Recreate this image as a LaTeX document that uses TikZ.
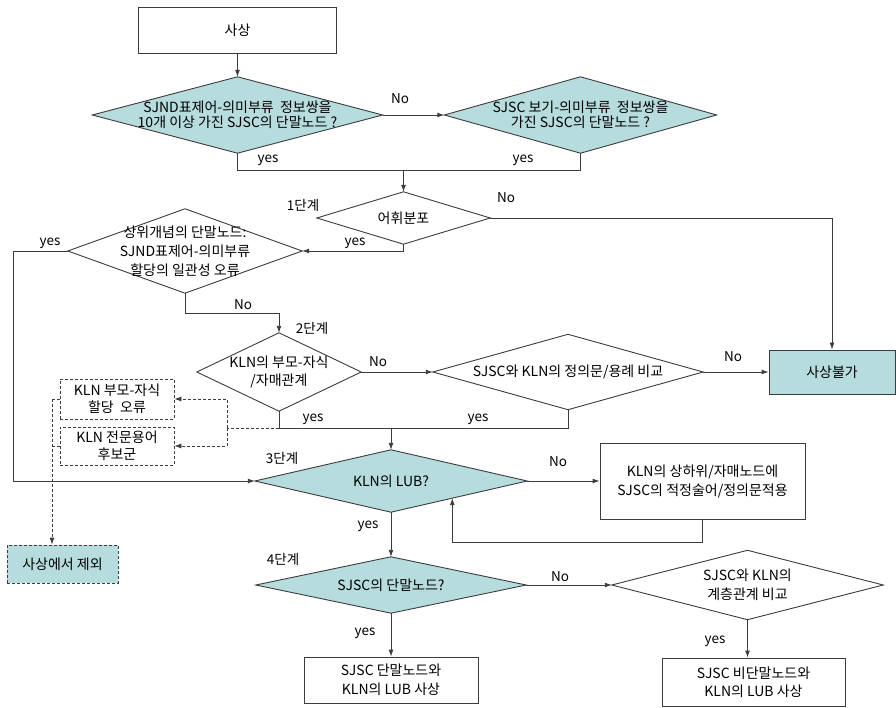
\documentclass[tikz,border=0pt]{standalone}
\usepackage{fontspec}
\setmainfont{Noto Sans CJK KR}
\usetikzlibrary{arrows.meta,calc}
\definecolor{tealfill}{RGB}{182,220,222}
\definecolor{lncol}{RGB}{60,60,60}
\pgfdeclarelayer{background}
\pgfsetlayers{background,main}
\newcommand{\dshape}[2]{\begin{pgfonlayer}{background}\filldraw[#2] (#1.north)--(#1.east)--(#1.south)--(#1.west)--cycle;\end{pgfonlayer}}
\begin{document}
\begin{tikzpicture}[x=1pt,y=-1pt,
  every node/.style={font=\fontsize{14}{16}\selectfont, text=black},
  box/.style={draw=lncol, line width=0.9pt, rectangle, inner sep=0pt, align=center},
  dbox/.style={draw=lncol, line width=0.8pt, dash pattern=on 3pt off 2pt, rectangle, inner sep=0pt, align=center},
  dia/.style={rectangle, inner sep=0pt, align=center},
  blue/.style={fill=tealfill, draw=lncol, line width=0.9pt},
  white/.style={fill=white, draw=lncol, line width=0.9pt},
  lbl/.style={inner sep=0pt, font=\fontsize{13.5}{16}\selectfont},
  ln/.style={draw=lncol, line width=0.9pt},
  arr/.style={draw=lncol, line width=0.9pt, -{Latex[length=7pt,width=5pt]}},
  dsh/.style={draw=lncol, line width=0.8pt, dash pattern=on 3pt off 2pt},
  dsharr/.style={dsh, -{Latex[length=7pt,width=5pt]}},
]
\useasboundingbox (0,0) rectangle (896,708);

% nodes
\node[box, minimum width=198pt, minimum height=46pt] (n0) at (237.5,30) {사상};

\node[dia, minimum width=290pt, minimum height=76pt, font=\fontsize{14}{15.5}\selectfont] (d1) at (237.5,115) {SJND표제어-의미부류\ \ 정보쌍을\\10개 이상 가진 SJSC의 단말노드 ?};
\dshape{d1}{blue}
\node[dia, minimum width=272pt, minimum height=76pt, font=\fontsize{14}{15.5}\selectfont] (d2) at (580.5,115) {SJSC 보기-의미부류\ \ 정보쌍을\\가진 SJSC의 단말노드 ?};
\dshape{d2}{blue}

\node[dia, minimum width=173pt, minimum height=52pt] (d3) at (403.5,218) {어휘분포};
\dshape{d3}{white}

\node[dia, minimum width=234pt, minimum height=84pt, font=\fontsize{14}{19}\selectfont] (d4) at (185,251) {상위개념의 단말노드:\\SJND표제어-의미부류\\할당의 일관성 오류};
\dshape{d4}{white}

\node[dia, minimum width=164pt, minimum height=78pt, font=\fontsize{14}{18}\selectfont] (d5) at (279,372) {KLN의 부모-자식\\/자매관계};
\dshape{d5}{white}

\node[dia, minimum width=270pt, minimum height=75pt] (d6) at (568,372) {SJSC와 KLN의 정의문/용례 비교};
\dshape{d6}{white}

\node[box, fill=tealfill, minimum width=126pt, minimum height=44pt] (fail) at (832,372) {사상불가};

\node[dbox, minimum width=114pt, minimum height=40pt, font=\fontsize{14}{16.5}\selectfont] (bk1) at (117,399) {KLN 부모-자식\\할당\ \ 오류};
\node[dbox, minimum width=114pt, minimum height=38pt, font=\fontsize{14}{16.5}\selectfont] (bk2) at (117,446) {KLN 전문용어\\후보군};
\node[dbox, fill=tealfill, minimum width=111pt, minimum height=38pt] (bx) at (62.5,564) {사상에서 제외};

\node[dia, minimum width=272pt, minimum height=62pt] (d7) at (391,481) {KLN의 LUB?};
\dshape{d7}{blue}

\node[box, minimum width=205pt, minimum height=76pt, font=\fontsize{14}{19}\selectfont] (upd) at (702.5,481) {KLN의 상하위/자매노드에\\SJSC의 적정술어/정의문적용};

\node[dia, minimum width=270pt, minimum height=56pt] (d8) at (391,585) {SJSC의 단말노드?};
\dshape{d8}{blue}

\node[dia, minimum width=271pt, minimum height=69pt, font=\fontsize{14}{19}\selectfont] (d9) at (747.5,585) {SJSC와 KLN의\\계층관계 비교};
\dshape{d9}{white}

\node[box, minimum width=174pt, minimum height=46pt, font=\fontsize{14}{19}\selectfont] (r1) at (391,680) {SJSC 단말노드와\\KLN의 LUB 사상};
\node[box, minimum width=183pt, minimum height=48pt, font=\fontsize{14}{18}\selectfont] (r2) at (753.5,682) {SJSC 비단말노드와\\KLN의 LUB 사상};

% labels
\node[lbl] (t1) at (400,99) {No};
\node[lbl] (t2) at (268,160) {yes};
\node[lbl] (t3) at (523,160) {yes};
\node[lbl] (t4) at (303,205) {1단계};
\node[lbl] (t5) at (506,198) {No};
\node[lbl] (t6) at (355,243) {yes};
\node[lbl] (t7) at (50,243) {yes};
\node[lbl] (t8) at (243,305) {No};
\node[lbl] (t9) at (312,328) {2단계};
\node[lbl] (t10) at (378,362) {No};
\node[lbl] (t11) at (733,357) {No};
\node[lbl] (t12) at (313,419) {yes};
\node[lbl] (t13) at (478,419) {yes};
\node[lbl] (t14) at (282,458) {3단계};
\node[lbl] (t15) at (558,462) {No};
\node[lbl] (t16) at (368,526) {yes};
\node[lbl] (t17) at (283,559) {4단계};
\node[lbl] (t18) at (365,633) {yes};
\node[lbl] (t19) at (560,577) {No};
\node[lbl] (t20) at (715,641) {yes};

% coordinates
\coordinate (m1) at (403.5,170);
\coordinate (m2) at (391,428);
\coordinate (dj) at (227,428);
\coordinate (dl) at (52,399);
\coordinate (lubin) at ($(d7.south)!0.45!(d7.east)$);

% connectors
\draw[arr] (n0.south) -- (d1.north);
\draw[arr] (d1.east) -- (d2.west);
\draw[ln] (d1.south) -- ++(0,17) -| (d2.south);
\draw[arr] (m1) -- (d3.north);
\draw[arr] (d3.east) -| (fail.north);
\draw[arr] (d3.south) |- (d4.east);
\draw[arr] (d4.west) -- ++(-54,0) |- (d7.west);
\draw[arr] (d4.south) -- ++(0,20) -| (d5.north);
\draw[arr] (d5.east) -- (d6.west);
\draw[arr] (d6.east) -- (fail.west);
\draw[ln] (d5.south) -- ++(0,17) -| (d6.south);
\draw[arr] (m2) -- (d7.north);
\draw[arr] (d7.east) -- (upd.west);
\draw[arr] (upd.south) -- ++(0,23) -| (lubin);
\draw[arr] (d7.south) -- (d8.north);
\draw[arr] (d8.east) -- (d9.west);
\draw[arr] (d8.south) -- (r1.north);
\draw[arr] (d9.south) -- (d9.south |- r2.north);

% dashed
\draw[dsh] (d5.south |- dj) -- (dj);
\draw[dsharr] (dj) |- (bk1.east);
\draw[dsharr] (dj) |- (bk2.east);
\draw[dsh] (bk1.west) -- (bk1.west -| dl);
\draw[dsh] (bk2.west) -- (bk2.west -| dl);
\draw[dsharr] (bk1.west -| dl) -- (dl |- bx.north);
\end{tikzpicture}
\end{document}
